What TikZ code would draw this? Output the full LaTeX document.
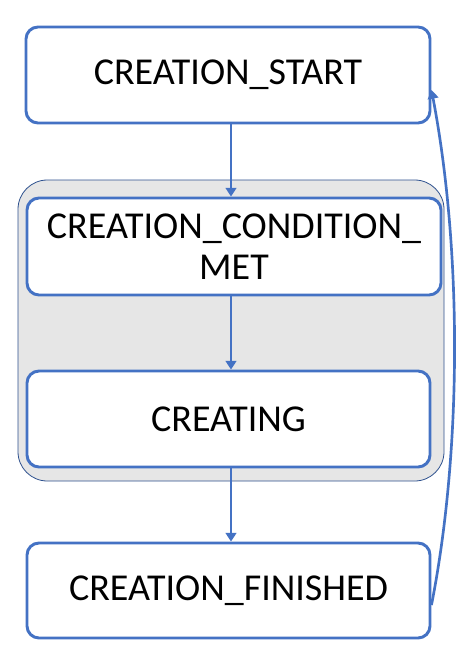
\documentclass[tikz,border=0pt]{standalone}
\usepackage{fontspec}
\setmainfont{Carlito}
\usetikzlibrary{arrows.meta}
\definecolor{boxblue}{HTML}{4472C4}
\definecolor{groupgray}{HTML}{E6E6E6}
\definecolor{groupline}{HTML}{2F528F}
\begin{document}
\begin{tikzpicture}[x=0.75pt,y=-0.75pt,
  statebox/.style={draw=boxblue,line width=2.2pt,rounded corners=9pt,fill=white,
    minimum width=#1,inner sep=0pt,align=center,font=\fontsize{28.5}{34}\selectfont},
  flow/.style={draw=boxblue,line width=2pt,-{Triangle[length=6.5pt,width=8pt]}}]
\useasboundingbox (0,0) rectangle (466,667);
\fill[white] (0,0) rectangle (466,667);
\draw[groupline,fill=groupgray,line width=0.6pt,rounded corners=22pt] (18,180) rectangle (444,481);
\node[statebox=303pt,minimum height=72pt] (start) at (228,75) {CREATION\_START};
\node[statebox=310.5pt,minimum height=72.75pt] (cond) at (234,246.5) {CREATION\_CONDITION\_\\[-3pt]MET};
\node[statebox=302.25pt,minimum height=72pt] (creating) at (228.5,419) {CREATING};
\node[statebox=302.25pt,minimum height=71.25pt] (fin) at (228.5,590.5) {CREATION\_FINISHED};
\draw[flow] (start.south -| 231,0) -- (cond.north -| 231,0);
\draw[flow] (cond.south -| 231,0) -- (creating.north -| 231,0);
\draw[flow] (creating.south -| 231,0) -- (fin.north -| 231,0);
\draw[flow] (fin.east |- 0,605) .. controls (462,450) and (462,250) .. (start.east |- 0,90);
\end{tikzpicture}
\end{document}
